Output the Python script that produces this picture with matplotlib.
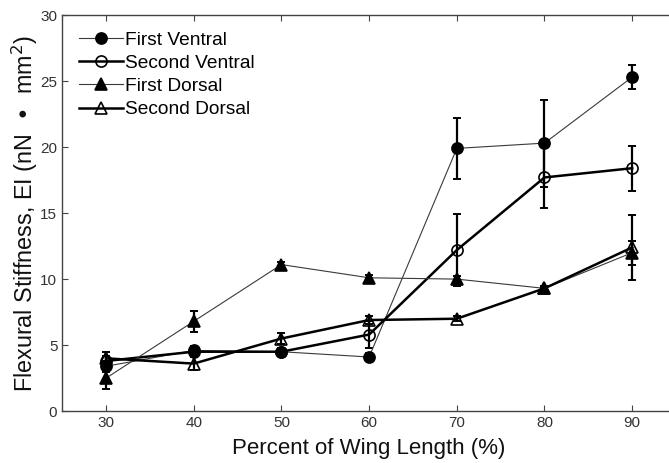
import matplotlib
matplotlib.use("Agg")
import matplotlib.pyplot as plt

plt.rcParams["font.family"] = ["Liberation Sans", "DejaVu Sans"]

pct = [30, 40, 50, 60, 70, 80, 90]

first_ventral = [3.4, 4.6, 4.5, 4.1, 19.9, 20.3, 25.3]
first_ventral_err = [0.4, 0.3, 0.3, 0.3, 2.3, 3.3, 0.9]

second_ventral = [3.8, 4.5, 4.5, 5.8, 12.2, 17.7, 18.4]
second_ventral_err = [0.4, 0.3, 0.3, 1.0, 2.7, 2.3, 1.7]

first_dorsal = [2.5, 6.8, 11.1, 10.1, 10.0, 9.3, 12.0]
first_dorsal_err = [0.8, 0.8, 0.2, 0.2, 0.2, 0.2, 0.9]

second_dorsal = [4.0, 3.6, 5.5, 6.9, 7.0, 9.3, 12.4]
second_dorsal_err = [0.5, 0.5, 0.4, 0.3, 0.2, 0.2, 2.45]

series = [
    ("First Ventral", first_ventral, first_ventral_err, "o", "k", 0.8),
    ("Second Ventral", second_ventral, second_ventral_err, "o", "none", 1.8),
    ("First Dorsal", first_dorsal, first_dorsal_err, "^", "k", 0.8),
    ("Second Dorsal", second_dorsal, second_dorsal_err, "^", "none", 1.8),
]

fig = plt.figure(figsize=(6.69, 4.63), dpi=100)
ax = fig.add_axes([0.093, 0.112, 0.9175, 0.8555])

for name, y, err, mk, face, lw in series:
    lc = "#3a3a3a" if lw < 1 else "k"
    ax.errorbar(pct, y, yerr=err, fmt="none", ecolor="k", elinewidth=1.6,
                capsize=2.8, capthick=1.4, zorder=2)
    ax.plot(pct, y, color=lc, lw=lw, marker=mk, markersize=8,
            markerfacecolor=face, markeredgecolor="k", markeredgewidth=1.2,
            label=name, zorder=3)

ax.set_xlim(25, 95)
ax.set_ylim(0, 30)
ax.set_xticks(pct)
ax.set_yticks([0, 5, 10, 15, 20, 25, 30])
ax.tick_params(direction="in", length=4, labelsize=11, labelcolor="#333333",
               color="#444444", top=True, right=False)
ax.spines["right"].set_visible(False)
for s in ax.spines.values():
    s.set_color("#444444")
    s.set_linewidth(1.0)

ax.set_xlabel("Percent of Wing Length (%)", fontsize=16, color="#111111", labelpad=6)
ax.set_ylabel("Flexural Stiffness, EI (nN  \u2022  mm$^2$)", fontsize=16.8,
              color="#111111", labelpad=0)

leg = ax.legend(loc="upper left", frameon=False, fontsize=13.8, handlelength=2.3,
                handletextpad=0.1, borderaxespad=0.45, labelspacing=0.3,
                bbox_to_anchor=(0.0, 1.0))

fig.savefig("out.png", dpi=100)
